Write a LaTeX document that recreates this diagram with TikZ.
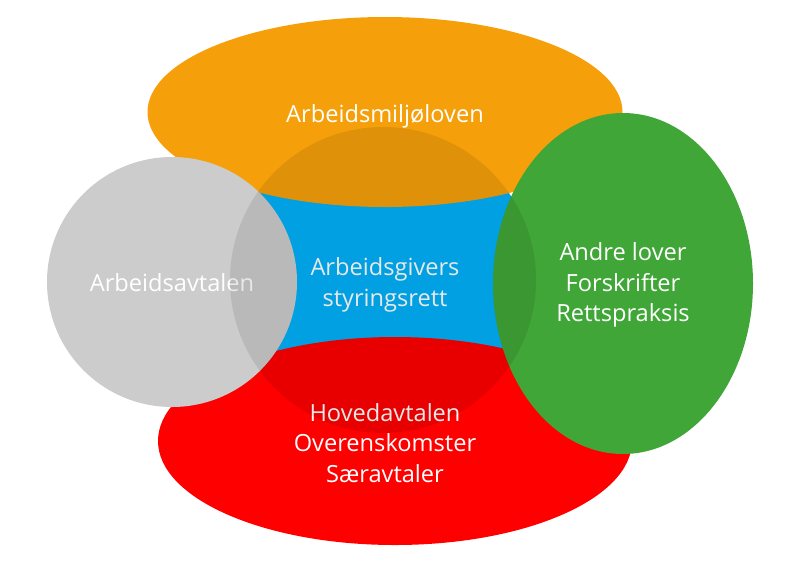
\documentclass[tikz,border=0pt]{standalone}
\usepackage{fontspec}
\setmainfont{Open Sans}
\definecolor{miljo}{RGB}{245,160,10}
\definecolor{styring}{RGB}{0,176,249}
\definecolor{avtale}{RGB}{204,204,204}
\definecolor{lover}{RGB}{64,166,56}
\definecolor{hoved}{RGB}{255,0,0}
\begin{document}
\begin{tikzpicture}[x=0.025cm,y=-0.025cm,
    felt/.style={text=white,align=center,font=\fontsize{16.8}{21.6}\selectfont}]
        \useasboundingbox (0,0) rectangle (800,560);

        % the five areas
        \fill[styring] (383,280) circle (153);
        \fill[miljo] (385,112) ellipse (237.5 and 95);
        \fill[hoved] (395,441) ellipse (237 and 104);
        \fill[avtale] (172,282) circle (125);
        \fill[lover] (623,283.5) ellipse (130 and 170.5);

        \node[felt] (miljoloven) at (385,116) {Arbeidsmiljøloven};
        \node[felt] (arbavtalen) at (172,283) {Arbeidsavtalen};
        \node[felt] (styringsrett) at (385,285) {Arbeidsgivers\\styringsrett};
        \node[felt] (andre) at (623,285) {Andre lover\\Forskrifter\\Rettspraksis};
        \node[felt] (hovedavtalen) at (385,443) {Hovedavtalen\\Overenskomster\\Særavtaler};

        % shade over the middle
        \fill[black,opacity=0.09] (383,280) circle (153);

    \end{tikzpicture}
\end{document}
